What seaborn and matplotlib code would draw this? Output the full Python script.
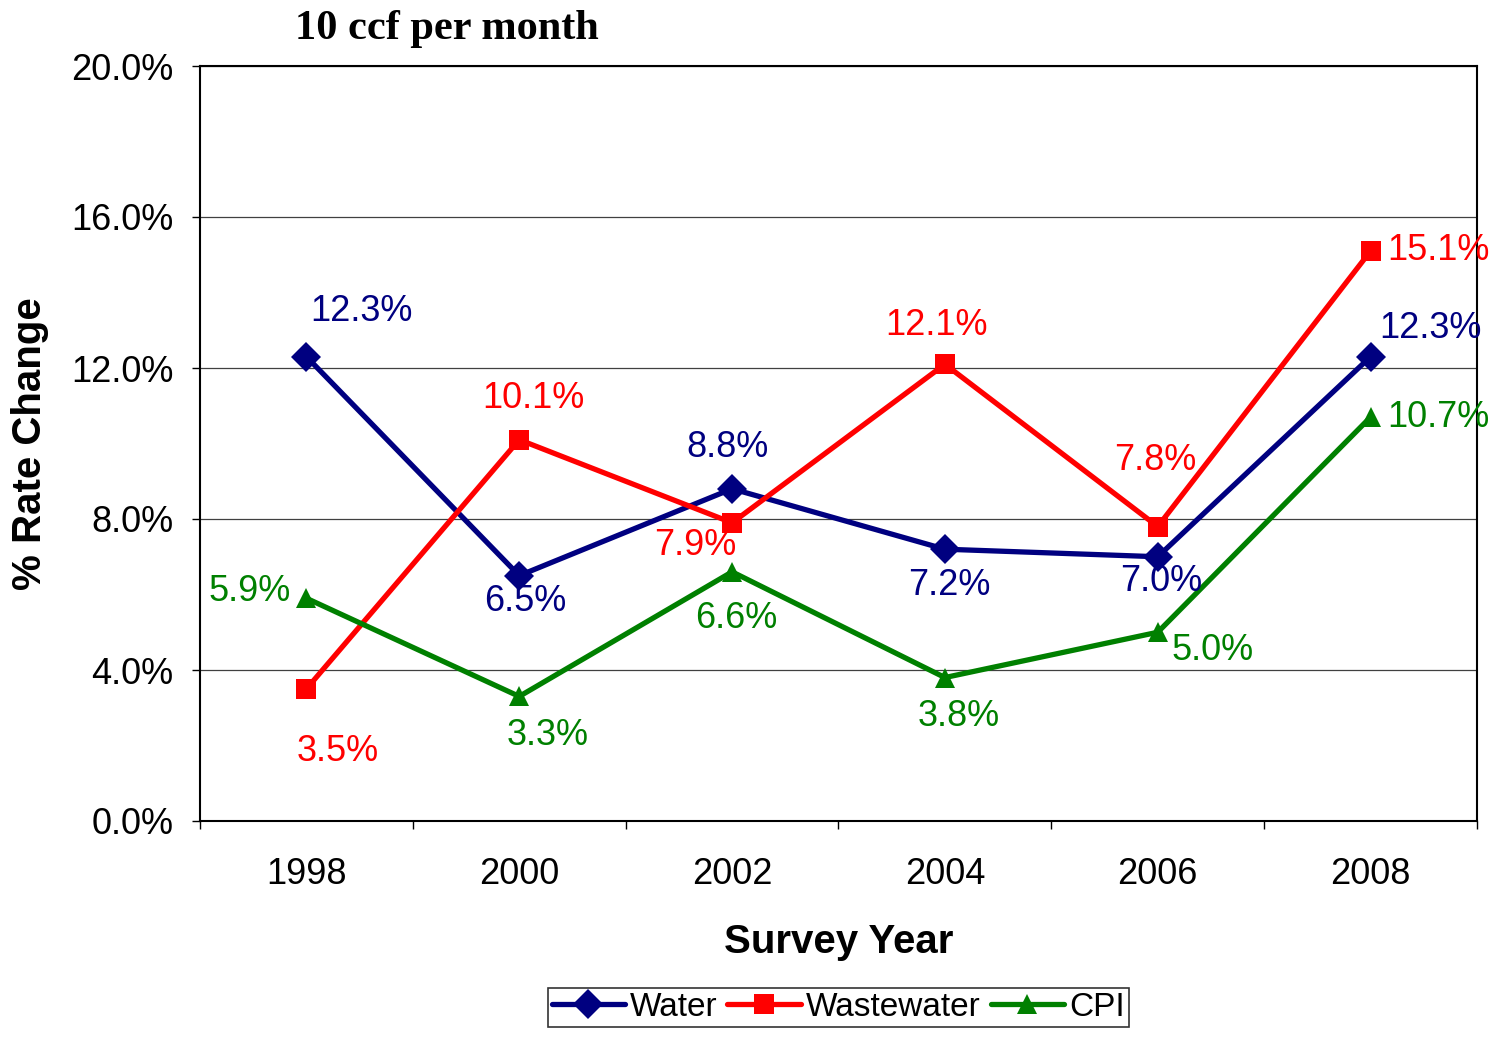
import matplotlib
matplotlib.use("Agg")
import matplotlib.pyplot as plt
from matplotlib.ticker import FixedLocator, FuncFormatter
import seaborn as sns
import pandas as pd

# Survey data: percent change in combined bill, 10 ccf per month
years = ["1998", "2000", "2002", "2004", "2006", "2008"]
water = [12.3, 6.5, 8.8, 7.2, 7.0, 12.3]
wastewater = [3.5, 10.1, 7.9, 12.1, 7.8, 15.1]
cpi = [5.9, 3.3, 6.6, 3.8, 5.0, 10.7]
series_names = ["Water", "Wastewater", "CPI"]

colors = {"Water": "#000080", "Wastewater": "#FF0000", "CPI": "#008000"}
markers = {"Water": "D", "Wastewater": "s", "CPI": "^"}

rows = []
for name, vals in zip(series_names, [water, wastewater, cpi]):
    for i, (yr, v) in enumerate(zip(years, vals)):
        rows.append({"pos": i, "year": yr, "value": v, "series": name})
df = pd.DataFrame(rows)

sns.set_style("white")
plt.rcParams["font.family"] = ["Liberation Sans", "DejaVu Sans"]
plt.rcParams["text.color"] = "black"
plt.rcParams["axes.labelcolor"] = "black"
plt.rcParams["xtick.color"] = "black"
plt.rcParams["ytick.color"] = "black"

fig = plt.figure(figsize=(15.07, 10.37), dpi=100)
ax = fig.add_axes([200 / 1507, 1 - 821 / 1037, 1277 / 1507, 755 / 1037])

sns.lineplot(data=df, x="pos", y="value", hue="series", style="series",
             palette=colors, markers=markers, dashes=False, linewidth=3.8,
             markersize=15, markeredgewidth=0, ax=ax, legend=True,
             hue_order=series_names, style_order=series_names)

# Per-point label offsets (pixels)
offsets = {
    "Water": [(55, 45), (6, -26), (-5, 41), (4, -36), (3, -25), (60, 28)],
    "Wastewater": [(31, -63), (14, 41), (-37, -23), (-8, 39), (-2, 66), (68, 0)],
    "CPI": [(-57, 7), (28, -39), (4, -47), (14, -39), (55, -18), (68, 0)],
}
for name, vals in zip(series_names, [water, wastewater, cpi]):
    for i, v in enumerate(vals):
        dx, dy = offsets[name][i]
        ax.annotate(f"{v:.1f}%", (i, v), xytext=(dx, dy),
                    textcoords="offset pixels", ha="center", va="center",
                    color=colors[name], fontsize=26)

ax.set_xlim(-0.5, 5.5)
ax.set_ylim(0, 20)
ax.set_yticks([0, 4, 8, 12, 16, 20])
ax.yaxis.set_major_formatter(FuncFormatter(lambda v, p: f"{v:.1f}%"))
ax.set_xticks(range(len(years)))
ax.set_xticklabels(years)
ax.xaxis.set_minor_locator(FixedLocator([i - 0.5 for i in range(len(years) + 1)]))

ax.grid(axis="y", color="#404040", linewidth=0.9)
ax.set_axisbelow(True)
for s in ax.spines.values():
    s.set_color("black")
    s.set_linewidth(1.5)

ax.tick_params(axis="y", which="major", direction="out", length=6, width=1,
               color="black", left=True, labelsize=26, pad=13)
ax.tick_params(axis="x", which="major", length=0, labelsize=26, pad=26)
ax.tick_params(axis="x", which="minor", direction="out", length=6, width=1,
               color="black", bottom=True)

ax.set_xlabel("Survey Year", fontsize=29, fontweight="bold", labelpad=22)
ax.set_ylabel("% Rate Change", fontsize=29, fontweight="bold", labelpad=16)

fig.text(295 / 1507, 1 - 29 / 1037, "10 ccf per month", ha="left", va="center",
         fontsize=30.5, fontweight="bold", family=["Liberation Serif", "DejaVu Serif"])

handles, labels = ax.get_legend_handles_labels()
ax.legend_.remove()
leg = fig.legend(handles, labels, loc="upper center", ncol=3,
                 bbox_to_anchor=(838 / 1507, 1 - 988 / 1037),
                 bbox_transform=fig.transFigure, frameon=True, fancybox=False,
                 edgecolor="black", fontsize=24, handlelength=2.2,
                 handletextpad=0.15, columnspacing=0.3, borderpad=0.12,
                 borderaxespad=0)
leg.get_frame().set_linewidth(1.2)

fig.savefig("out.png", dpi=100)
